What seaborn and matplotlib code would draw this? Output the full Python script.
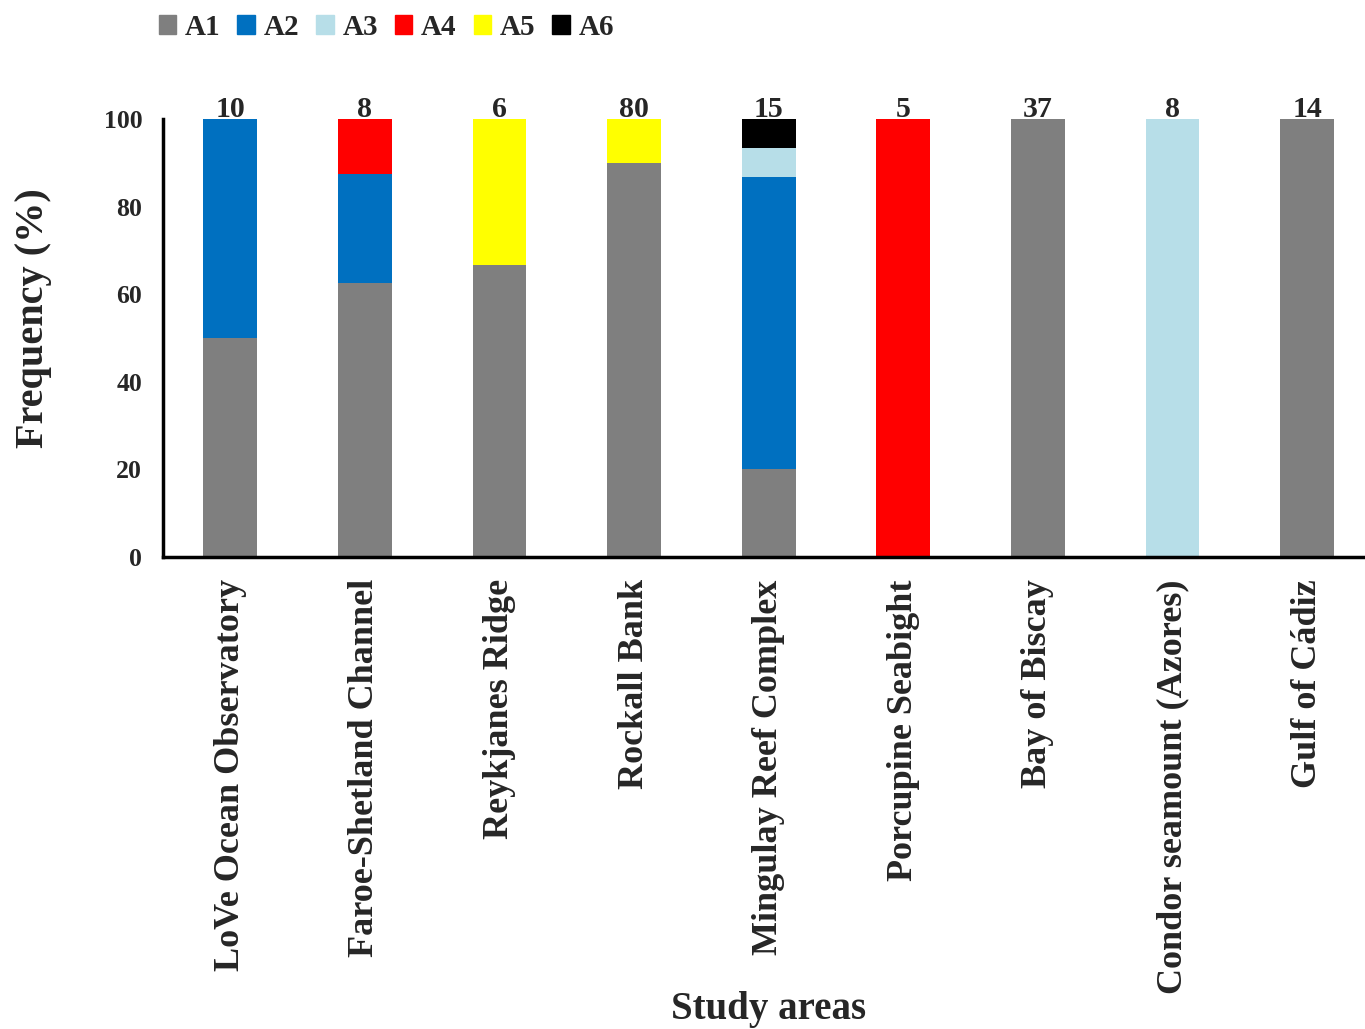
import matplotlib
matplotlib.use("Agg")
import matplotlib.pyplot as plt
import matplotlib.patches as mpatches
import numpy as np
import pandas as pd
import seaborn as sns

# Study areas and frequency (%) of each class
areas = ["LoVe Ocean Observatory", "Faroe-Shetland Channel", "Reykjanes Ridge",
         "Rockall Bank", "Mingulay Reef Complex", "Porcupine Seabight",
         "Bay of Biscay", "Condor seamount (Azores)", "Gulf of Cádiz"]
a1 = [50, 62.5, 66.7, 90, 20, 0, 100, 0, 100]
a2 = [50, 25, 0, 0, 66.7, 0, 0, 0, 0]
a3 = [0, 0, 0, 0, 6.7, 0, 0, 100, 0]
a4 = [0, 12.5, 0, 0, 0, 100, 0, 0, 0]
a5 = [0, 0, 33.3, 10, 0, 0, 0, 0, 0]
a6 = [0, 0, 0, 0, 6.6, 0, 0, 0, 0]
n_total = [10, 8, 6, 80, 15, 5, 37, 8, 14]

classes = ["A1", "A2", "A3", "A4", "A5", "A6"]
colores = ["#7F7F7F", "#0070C0", "#B7DEE8", "#FF0000", "#FFFF00", "#000000"]

df = pd.DataFrame({"area": areas, "A1": a1, "A2": a2, "A3": a3,
                   "A4": a4, "A5": a5, "A6": a6})

sns.set_style("white")
plt.rcParams['font.family'] = ['Liberation Serif', 'DejaVu Serif']
plt.rcParams['font.weight'] = 'bold'

fig = plt.figure(figsize=(13.65, 10.29), dpi=100)
ax = fig.add_axes([163 / 1365, 1 - 557 / 1029, 1 - 163 / 1365, 438 / 1029])

# Barras apiladas: se dibuja la suma acumulada de arriba hacia abajo
acumulado = df[classes].cumsum(axis=1)
for c, col in reversed(list(zip(classes, colores))):
    sns.barplot(x=df["area"], y=acumulado[c], color=col, width=0.4,
                order=areas, ax=ax, saturation=1, linewidth=0)

# Numero de muestras encima de cada barra
for i, n in enumerate(n_total):
    ax.text(i, 100.4, str(n), ha='center', va='baseline', fontsize=21.5,
            fontweight='bold')

ax.set_xlim(-0.5, 8.43)
ax.set_ylim(0, 100)
ax.set_yticks(np.arange(0, 101, 20))
ax.tick_params(axis='y', length=0, pad=15, labelsize=18.5)
ax.tick_params(axis='x', length=0, pad=16, labelsize=26)
plt.setp(ax.get_xticklabels(), rotation=90, fontweight='bold')
plt.setp(ax.get_yticklabels(), fontweight='bold')

for s in ['top', 'right']:
    ax.spines[s].set_visible(False)
for s in ['left', 'bottom']:
    ax.spines[s].set_linewidth(2.5)
    ax.spines[s].set_color('black')

ax.set_xlabel("Study areas", fontsize=28, fontweight='bold')
ax.xaxis.set_label_coords(0.504, -0.99)
ax.xaxis.label.set_va('top')
ax.set_ylabel("Frequency (%)", fontsize=29, fontweight='bold')
ax.yaxis.set_label_coords(-0.092, 0.546)

handles = [mpatches.Patch(color=col, label=c) for c, col in zip(classes, colores)]
fig.legend(handles=handles, loc='upper left', bbox_to_anchor=(147 / 1365, 1 - 2 / 1029),
           ncol=6, frameon=False, fontsize=21, handlelength=0.6, handleheight=0.6,
           handletextpad=0.3, columnspacing=0.58, borderaxespad=0)

fig.savefig("out.png", dpi=100)
